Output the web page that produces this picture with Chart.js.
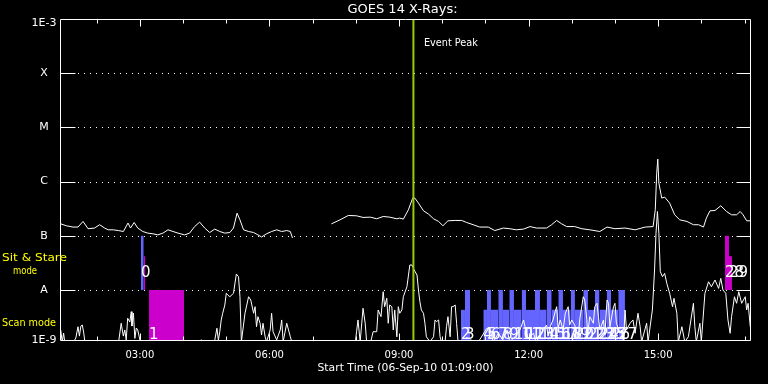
<!DOCTYPE html>
<html><head><meta charset="utf-8">
<script src="https://cdn.jsdelivr.net/npm/chart.js@4/dist/chart.umd.min.js"></script>
<style>html,body{margin:0;padding:0;background:#000;}canvas{display:block;}</style>
</head><body>
<canvas id="c" width="768" height="384"></canvas>
<script>
// ---------- texts ----------
const titleText = 'GOES 14 X-Rays:';
const startLabel = 'Start Time (06-Sep-10 01:09:00)';
const eventText = 'Event Peak';
// ---------- time axis (minutes after start 01:09:00) ----------
const timeRange = [0, 960];
const hourTicks = [51,111,171,231,291,351,411,471,531,591,651,711,771,831,891,951];
const majorTickTimes = [111,291,471,651,831];
const majorTickLabels = ['03:00','06:00','09:00','12:00','15:00'];
// ---------- flux axis ----------
const fluxRange = [1.195e-9, 1e-3];
const classLevels = [1e-3,1e-4,1e-5,1e-6,1e-7,1e-8,1.195e-9];
const classLabels = ['1E-3','X','M','C','B','A','1E-9'];
const gridLevels = [1e-4,1e-5,1e-6,1e-7,1e-8];
const eventPeakTime = 491;
// ---------- GOES long channel (1-8 A) ----------
const longT = [1,9,18,25,32,39,48,55,62,67,
 74,81,88,94.5,98,103,108,115,122,129,
 136,143,150,157,164,173,180,187,194,201,
 208,215,222,229,236,241,246,250,255,262,
 269,275,280,287,294,301,308,315,320,323,
 340,
 377,389,400.5,412,421,431,440,449,458,
 468,472,477,484,490,493,498,505,512,519,
 526,532,539,549,558,565,574,583,595,604,
 616,625,634,644,653,662,676,683,690,697,
 704,715,725,736,750,760,771,785,799,813,
 824,827,829,830.5,832,836,840,847,854,861,
 871,880,887,894,898,903,910,918,926,933,
 940,945,949,954,959];
const longV = [1.66e-7,1.53e-7,1.45e-7,1.45e-7,1.84e-7,1.35e-7,1.39e-7,1.60e-7,1.39e-7,1.29e-7,
 1.29e-7,1.25e-7,1.20e-7,1.72e-7,1.39e-7,1.76e-7,1.39e-7,1.20e-7,1.12e-7,1.09e-7,
 1.04e-7,1.12e-7,1.29e-7,1.20e-7,1.12e-7,1.04e-7,1.12e-7,1.48e-7,1.79e-7,1.39e-7,
 1.15e-7,1.33e-7,1.20e-7,1.12e-7,1.15e-7,1.39e-7,2.62e-7,1.97e-7,1.29e-7,1.20e-7,
 1.15e-7,1.04e-7,0.95e-7,1.09e-7,1.20e-7,1.29e-7,1.20e-7,1.25e-7,1.20e-7,0.91e-7,
 null,
 1.66e-7,1.97e-7,2.37e-7,2.34e-7,2.18e-7,2.21e-7,2.06e-7,2.27e-7,2.21e-7,
 2.06e-7,2.12e-7,2.03e-7,3.02e-7,4.96e-7,4.96e-7,4.01e-7,2.89e-7,2.51e-7,2.06e-7,
 1.84e-7,1.53e-7,1.89e-7,1.92e-7,1.92e-7,1.76e-7,1.60e-7,1.45e-7,1.45e-7,1.25e-7,
 1.39e-7,1.35e-7,1.29e-7,1.33e-7,1.48e-7,1.39e-7,1.39e-7,1.60e-7,1.92e-7,1.66e-7,
 1.48e-7,1.48e-7,1.35e-7,1.29e-7,1.20e-7,1.45e-7,1.35e-7,1.39e-7,1.29e-7,1.45e-7,
 1.48e-7,3.02e-7,1.43e-6,2.60e-6,9.38e-7,4.96e-7,5.18e-7,4.01e-7,2.44e-7,1.97e-7,
 1.84e-7,1.60e-7,1.60e-7,1.45e-7,2.12e-7,2.89e-7,2.93e-7,3.58e-7,2.81e-7,2.44e-7,
 2.44e-7,2.81e-7,2.44e-7,1.89e-7,1.89e-7];
// ---------- GOES short channel (0.5-4 A) ----------
const shortT = [1,3,5,7,11,17,22,25,27,29,
 31,33,35,42,56,69,72,78,81,85,
 88,90,92,94,97,99,100,102,104,106,
 108,111,113,125,153,174,176,181,183,197,
 199,214,218,220,222,224,226,229,231,233,
 236,241,245,248,250,252,257,262,265,269,
 271,273,275,278,280,282,285,287,292,294,
 296,301,306,308,310,315,320,322,326,375,
 410,412,414,417,421,424,426,431,435,440,
 442,446,449,451,454,456,458,461,463,465,
 468,470,472,475,477,482,486,489,492,496,
 498,500,502,505,507,509,514,519,521,523,
 526,528,530,535,537,539,542,544,546,549,
 551,553,556,563,570,579,583,593,597,602,
 609,615,621,625,632,639,644,646,650,658,
 661,667,671,676,678,681,685,688,690,692,
 695,699,702,706,708,711,715,720,722,727,
 729,732,733,736,741,743,746,748,750,755,
 757,760,762,764,769,771,773,778,780,783,
 785,787,792,796,799,803,806,808,815,817,
 823,826,828,830,832,834,837,840,843,847,
 851,853,857,859,864,868,873,880,882,884,
 889,891,896,901,905,910,915,918,921,925,
 928,931,933,937,940,943,947,952,954,956,
 959];
const shortV = [1.83e-9,1.11e-9,1.6e-9,1e-9,1e-9,1e-9,1.3e-9,2.1e-9,1.41e-9,2.16e-9,
 2.26e-9,1.6e-9,1e-9,1e-9,1e-9,1e-9,1.11e-9,1e-9,1e-9,2.43e-9,
 1.41e-9,1.83e-9,1.2e-9,3.01e-9,2.57e-9,3.98e-9,2.16e-9,3.76e-9,1.28e-9,1.99e-9,
 1.83e-9,1.2e-9,1e-9,1e-9,1e-9,1e-9,1e-9,1.11e-9,1e-9,1.2e-9,
 1e-9,1e-9,1.97e-9,1.2e-9,1.7e-9,2.8e-9,3.72e-9,5.29e-9,8.69e-9,8.09e-9,
 7.52e-9,8.69e-9,1.97e-8,1.76e-8,7.52e-9,1.11e-9,3.72e-9,7.52e-9,6.54e-9,3.72e-9,
 4.92e-9,2.1e-9,3.22e-9,2.43e-9,1.48e-9,2.43e-9,1.37e-9,1.11e-9,1.83e-9,3.72e-9,
 1.7e-9,1.2e-9,1.83e-9,2.8e-9,1.11e-9,2.43e-9,1.37e-9,1.11e-9,1e-9,1e-9,
 1e-9,1.7e-9,2.8e-9,1.11e-9,4.6e-9,2.43e-9,1.11e-9,1e-9,1.7e-9,1.7e-9,
 4.28e-9,3.22e-9,9.3e-9,4.92e-9,7.03e-9,2.43e-9,5.29e-9,4.92e-9,1.83e-9,4.28e-9,
 1.37e-9,4.92e-9,3.72e-9,4.28e-9,7.52e-9,1.15e-8,2.89e-8,2.89e-8,2.34e-8,1.89e-8,
 1.0e-8,6.08e-9,4.28e-9,3.72e-9,2.43e-9,1.37e-9,1.11e-9,1.37e-9,2.8e-9,2.6e-9,
 2.8e-9,1.37e-9,1.11e-9,1.11e-9,2.1e-9,3.22e-9,1.37e-9,4.92e-9,4.92e-9,5.29e-9,
 2.43e-9,1.11e-9,1e-9,1e-9,1.2e-9,1.11e-9,1.2e-9,1.97e-9,1.97e-9,1.11e-9,
 1.59e-9,1.2e-9,1.83e-9,1.11e-9,1.37e-9,1.83e-9,2.8e-9,2.1e-9,1.3e-9,1.59e-9,
 1.11e-9,1.37e-9,1.83e-9,2.26e-9,1.41e-9,2.1e-9,2.8e-9,3.98e-9,4.92e-9,1.99e-9,
 2.8e-9,1.83e-9,3.72e-9,4.92e-9,2.26e-9,2.8e-9,2.26e-9,1.37e-9,2.8e-9,7.52e-9,
 6.54e-9,2.8e-9,1.48e-9,3.22e-9,2.43e-9,4.92e-9,5.68e-9,3.22e-9,1.83e-9,2.8e-9,
 1.48e-9,6.54e-9,5.68e-9,2.1e-9,4.92e-9,5.68e-9,2.43e-9,1.59e-9,1.83e-9,1.11e-9,
 4.28e-9,1.83e-9,2.43e-9,2.8e-9,1.59e-9,3.72e-9,2.1e-9,1.11e-9,2.43e-9,1.11e-9,
 4.28e-9,2.34e-8,1.11e-7,2.8e-7,1.11e-7,2.18e-8,1.76e-8,2.03e-8,1.33e-8,8.69e-9,
 4.92e-9,7.03e-9,3.72e-9,1.11e-9,2.1e-9,1.11e-9,1.37e-9,5.68e-9,2.1e-9,1.11e-9,
 2.43e-9,1.11e-9,8.69e-9,1.42e-8,1.15e-8,1.53e-8,1.07e-8,1.64e-8,1.0e-8,8.69e-9,
 2.8e-9,1.59e-9,3.22e-9,7.52e-9,5.68e-9,9.3e-9,5.68e-9,7.52e-9,4.28e-9,5.68e-9,
 2.1e-9];
// ---------- observations (Sit & Stare between A and B, Scan below A) ----------
const obsLabel = ['0','','1','2','3','4','5','6','7','8','9','10','11','12','13','14','15','16','17','18','19','20','21','22','23','24','25','26','27','28','29'];
const obsStart = [112.5,116.3,123.6,557.1,562.6,588.1,593.2,598.7,608.9,615.4,624.2,630.7,641.4,647.4,659.9,666.8,676.1,683.1,692.3,698.8,709.5,715.4,727.0,733.5,743.2,749.5,759.5,765.5,775.6,923.8,929.4];
const obsEnd   = [116.3,118.5,172.3,562.6,569.6,593.2,598.7,608.9,615.4,624.2,630.7,641.4,647.4,659.9,666.8,676.1,683.1,692.3,698.8,709.5,715.4,727.0,733.5,743.2,749.5,759.5,765.5,775.6,784.9,929.4,933.5];
const obsLow   = [1e-8,1e-8,1e-9,1e-9,1e-9,1e-9,1e-9,1e-9,1e-9,1e-9,1e-9,1e-9,1e-9,1e-9,1e-9,1e-9,1e-9,1e-9,1e-9,1e-9,1e-9,1e-9,1e-9,1e-9,1e-9,1e-9,1e-9,1e-9,1e-9,1e-8,1e-8];
const obsHigh  = [1e-7,4.2e-8,1e-8,4.3e-9,1e-8,4.3e-9,1e-8,4.3e-9,1e-8,4.3e-9,1e-8,4.3e-9,1e-8,4.3e-9,1e-8,4.3e-9,1e-8,4.3e-9,1e-8,4.3e-9,1e-8,4.3e-9,1e-8,4.3e-9,1e-8,4.3e-9,1e-8,4.3e-9,1e-8,1e-7,4.2e-8];
const obsKind  = ['a','b','b','a','a','a','a','a','a','a','a','a','a','a','a','a','a','a','a','a','a','a','a','a','a','a','a','a','a','b','b'];

const kindColor = {a:'#6464ff', b:'#cc00cc'};
const FONT = '"DejaVu Sans", sans-serif';

function txt(ctx, s, x, y, size, color, align, targetW, baseline){
  ctx.save();
  ctx.font = size + 'px ' + FONT;
  ctx.fillStyle = color;
  ctx.textBaseline = baseline || 'middle';
  ctx.textAlign = align;
  const w = ctx.measureText(s).width;
  const sx = targetW ? targetW / w : 1;
  ctx.translate(x, y); ctx.scale(sx, 1);
  ctx.fillText(s, 0, 0);
  ctx.restore();
}

const deco = {
  id: 'deco',
  beforeDraw(chart){
    const ctx = chart.ctx; ctx.save(); ctx.fillStyle = '#000'; ctx.fillRect(0,0,chart.width,chart.height); ctx.restore();
  },
  beforeDatasetsDraw(chart){
    const {ctx, chartArea:a, scales:{y}} = chart;
    ctx.save(); ctx.strokeStyle = '#fff'; ctx.lineWidth = 1; ctx.setLineDash([1,5]);
    gridLevels.forEach(v => {
      const py = Math.round(y.getPixelForValue(v)) + 0.5;
      ctx.beginPath(); ctx.moveTo(a.left, py); ctx.lineTo(a.right, py); ctx.stroke();
    });
    ctx.restore();
  },
  afterDatasetsDraw(chart){
    const {ctx, chartArea:a, scales:{x, y}} = chart;
    const L = a.left + 0.5, R = a.right - 0.5, T = a.top + 0.5, B = a.bottom + 0.5;
    ctx.save();
    ctx.strokeStyle = '#fff'; ctx.lineWidth = 1; ctx.setLineDash([]);
    ctx.beginPath(); ctx.moveTo(L, T); ctx.lineTo(R, T); ctx.lineTo(R, B); ctx.lineTo(L, B); ctx.closePath(); ctx.stroke();
    // inner y ticks
    gridLevels.forEach(v => {
      const py = Math.round(y.getPixelForValue(v)) + 0.5;
      ctx.beginPath(); ctx.moveTo(L, py); ctx.lineTo(L + 15, py); ctx.moveTo(R - 14, py); ctx.lineTo(R, py); ctx.stroke();
    });
    // time ticks top and bottom
    hourTicks.forEach(t => {
      const px = Math.round(x.getPixelForValue(t)) + 0.5;
      const len = majorTickTimes.includes(t) ? 7 : 4;
      ctx.beginPath(); ctx.moveTo(px, T); ctx.lineTo(px, T + len); ctx.moveTo(px, B); ctx.lineTo(px, B - len); ctx.stroke();
    });
    ctx.restore();
    // observation labels
    obsLabel.forEach((s, i) => {
      if (!s) return;
      const px = x.getPixelForValue(obsStart[i]);
      const py = obsLow[i] >= 1e-8 ? y.getPixelForValue(obsLow[i]) - 12.5 : a.bottom - 1.5;
      txt(ctx, s, px, py, 15, '#fff', 'left', 0, 'alphabetic');
    });
    // titles and axis labels
    txt(ctx, titleText, (a.left + a.right) / 2 - 3, 9.5, 13, '#fff', 'center');
    classLevels.forEach((v, i) => {
      let py = y.getPixelForValue(v);
      if (i === 0) py += 4.5;
      txt(ctx, classLabels[i], 44, py, 11, '#fff', 'center');
    });
    majorTickTimes.forEach((t, i) => {
      txt(ctx, majorTickLabels[i], x.getPixelForValue(t), 355.5, 10, '#fff', 'center');
    });
    txt(ctx, startLabel, (a.left + a.right) / 2, 368.5, 11, '#fff', 'center', 176);
    txt(ctx, 'Sit & Stare', 2, 258.5, 11, '#ffff00', 'left', 65);
    txt(ctx, 'mode', 13, 271, 11, '#ffff00', 'left', 24);
    txt(ctx, 'Scan mode', 2, 323.5, 11, '#ffff00', 'left', 54);
    txt(ctx, eventText, x.getPixelForValue(eventPeakTime) + 10.5, 43, 11, '#fff', 'left', 54);
  }
};

const eventDs = {
  data: [{x: eventPeakTime, y: fluxRange[1]}, {x: eventPeakTime, y: fluxRange[0]}],
  borderColor: '#9acd00', borderWidth: 2, pointRadius: 0, fill: false
};
const shortDs = {
  data: shortT.map((t, i) => ({x: t, y: shortV[i]})),
  borderColor: '#fff', borderWidth: 1, pointRadius: 0, fill: false, spanGaps: false
};
const longDs = {
  data: longT.map((t, i) => ({x: t, y: longV[i]})),
  borderColor: '#fff', borderWidth: 1, pointRadius: 0, fill: false, spanGaps: false
};
const obsDs = obsLabel.map((s, i) => ({
  data: [{x: obsStart[i], y: obsHigh[i]}, {x: obsEnd[i], y: obsHigh[i]}],
  fill: {value: obsLow[i]},
  backgroundColor: kindColor[obsKind[i]],
  borderColor: 'rgba(0,0,0,0)', borderWidth: 0, pointRadius: 0
}));

new Chart(document.getElementById('c'), {
  type: 'line',
  data: {datasets: [eventDs, shortDs, longDs, ...obsDs]},
  options: {
    responsive: false, animation: false, devicePixelRatio: 1,
    layout: {padding: {left: 60, top: 19, right: 17, bottom: 44}},
    plugins: {legend: {display: false}, tooltip: {enabled: false}, title: {display: false}},
    elements: {line: {tension: 0}, point: {radius: 0}},
    scales: {
      x: {type: 'linear', min: timeRange[0], max: timeRange[1], display: false},
      y: {type: 'logarithmic', min: fluxRange[0], max: fluxRange[1], display: false}
    }
  },
  plugins: [deco]
});
</script>
</body></html>
